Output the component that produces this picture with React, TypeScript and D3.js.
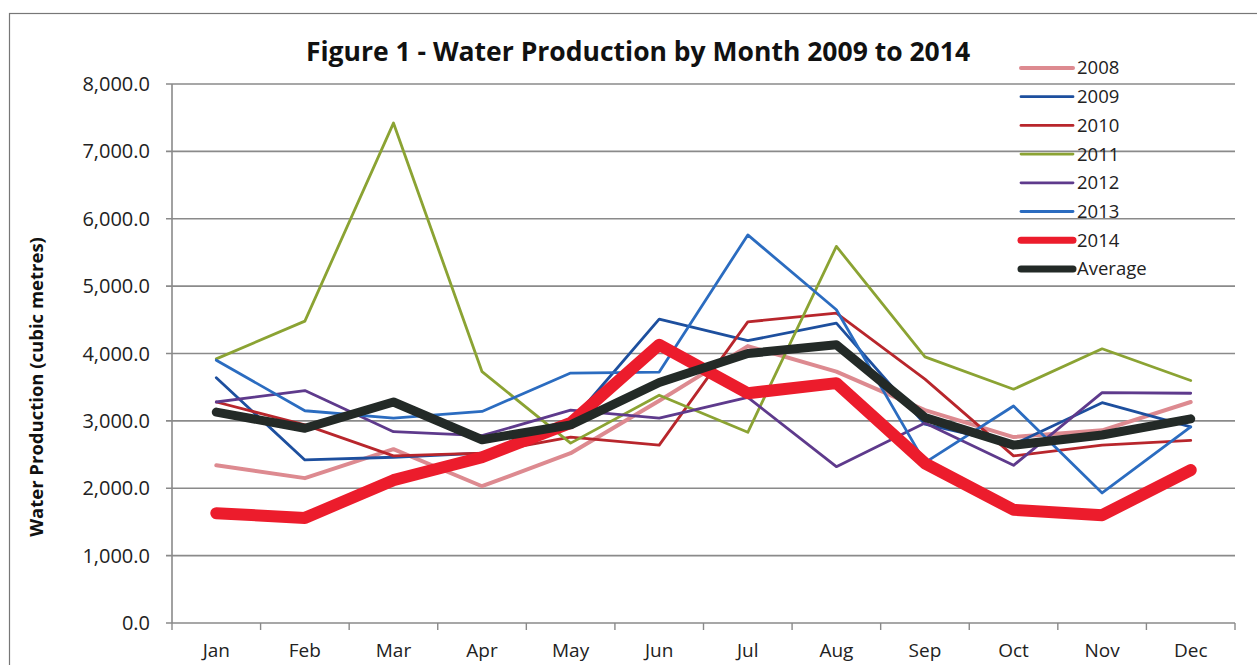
import React from 'react'
import * as d3 from 'd3'

const months = ['Jan', 'Feb', 'Mar', 'Apr', 'May', 'Jun', 'Jul', 'Aug', 'Sep', 'Oct', 'Nov', 'Dec']
const yTicks = [0, 1000, 2000, 3000, 4000, 5000, 6000, 7000, 8000]

const v2008 = [2340, 2150, 2580, 2030, 2520, 3300, 4110, 3730, 3160, 2760, 2860, 3280]
const v2009 = [3640, 2420, 2460, 2520, 2980, 4510, 4190, 4450, 2950, 2650, 3270, 2910]
const v2010 = [3280, 2940, 2480, 2520, 2760, 2640, 4470, 4600, 3620, 2480, 2640, 2710]
const v2011 = [3920, 4480, 7420, 3730, 2670, 3380, 2830, 5590, 3950, 3470, 4070, 3600]
const v2012 = [3280, 3450, 2840, 2780, 3160, 3040, 3350, 2320, 2970, 2340, 3420, 3410]
const v2013 = [3900, 3150, 3040, 3140, 3710, 3725, 5760, 4650, 2380, 3220, 1930, 2910]
const v2014 = [1630, 1560, 2120, 2460, 2970, 4130, 3410, 3560, 2370, 1680, 1600, 2270]
const vAvg = [3130, 2890, 3280, 2720, 2940, 3570, 4000, 4130, 3050, 2640, 2790, 3030]

const series = [
  { name: '2008', values: v2008, color: '#dd8a90', width: 4 },
  { name: '2009', values: v2009, color: '#1d4f9e', width: 2.8 },
  { name: '2010', values: v2010, color: '#b8262c', width: 2.8 },
  { name: '2011', values: v2011, color: '#8ba333', width: 2.8 },
  { name: '2012', values: v2012, color: '#5e3a8c', width: 2.8 },
  { name: '2013', values: v2013, color: '#2b6cc0', width: 2.8 },
  { name: '2014', values: v2014, color: '#ec1c2c', width: 12 },
  { name: 'Average', values: vAvg, color: '#232a27', width: 9 }
]

const W = 1257
const H = 665
const plot = { left: 172, right: 1235, top: 84, bottom: 623 }
const font = '"Open Sans", "Liberation Sans", sans-serif'

export default function App () {
  const x = d3.scaleBand().domain(months).range([plot.left, plot.right])
  const y = d3.scaleLinear().domain([0, 8000]).range([plot.bottom, plot.top])
  const cx = (m: string) => (x(m) as number) + x.bandwidth() / 2
  const line = d3.line<number>()
    .x((d, i) => cx(months[i]))
    .y((d) => y(d))
  const fmt = d3.format(',.1f')

  return (
    <svg width={W} height={H} style={{ position: 'absolute', left: 0, top: 0, background: '#fff' }}>
      <rect x={9.5} y={13.5} width={W + 10} height={H + 10} fill="none" stroke="#777" strokeWidth={1.2} />

      {yTicks.map((t) => (
        <g key={t}>
          <line x1={166} x2={plot.right} y1={y(t)} y2={y(t)} stroke="#8a8a8a" strokeWidth={1.6} />
          <text x={150} y={y(t)} dy="0.35em" textAnchor="end" fontFamily={font} fontSize={20} fill="#222">{fmt(t)}</text>
        </g>
      ))}
      <line x1={plot.left} x2={plot.left} y1={plot.top} y2={plot.bottom} stroke="#8a8a8a" strokeWidth={1.6} />
      {d3.range(months.length + 1).map((i) => {
        const xx = plot.left + i * x.bandwidth()
        return <line key={i} x1={xx} x2={xx} y1={plot.bottom} y2={plot.bottom + 7} stroke="#8a8a8a" strokeWidth={1.4} />
      })}
      {months.map((m) => (
        <text key={m} x={cx(m)} y={657} textAnchor="middle" fontFamily={font} fontSize={19} fill="#222">{m}</text>
      ))}

      <text x={638} y={61} textAnchor="middle" fontFamily={font} fontSize={26.5} fontWeight="bold" fill="#111">
        Figure 1 - Water Production by Month 2009 to 2014
      </text>
      <text transform={`translate(43,${387}) rotate(-90)`} textAnchor="middle" fontFamily={font} fontSize={18.5} fontWeight="bold" fill="#111">
        Water Production (cubic metres)
      </text>

      {series.map((s) => (
        <path key={s.name} d={line(s.values) || ''} fill="none" stroke={s.color} strokeWidth={s.width}
          strokeLinejoin="round" strokeLinecap="round" />
      ))}

      {series.map((s, i) => {
        const ly = 68 + i * 28.7
        return (
          <g key={s.name}>
            <line x1={1021} x2={1073} y1={ly} y2={ly} stroke={s.color} strokeWidth={Math.min(s.width, 7)} strokeLinecap="round" />
            <text x={1077} y={ly} dy="0.35em" fontFamily={font} fontSize={18.5} fill="#222">{s.name}</text>
          </g>
        )
      })}
    </svg>
  )
}
